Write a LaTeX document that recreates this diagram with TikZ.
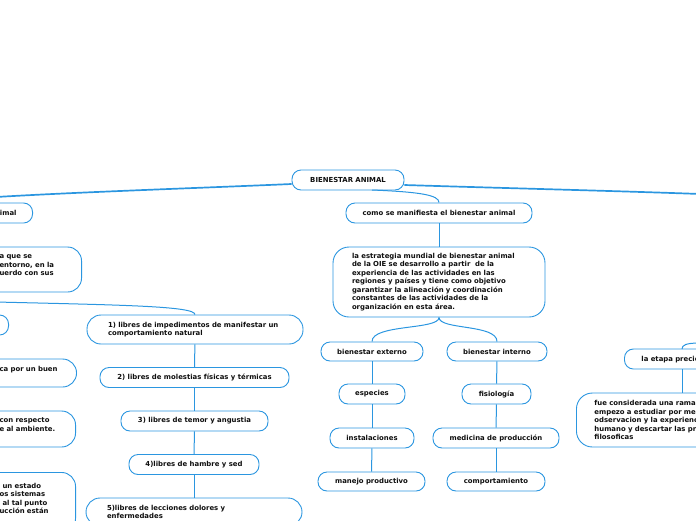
\documentclass[tikz,border=0pt]{standalone}
\usepackage{fontspec}
\setmainfont{DejaVu Sans}
\definecolor{mmblue}{RGB}{43,150,224}
\definecolor{txtc}{RGB}{15,15,15}
\newcommand{\mmfont}{\fontsize{6.9}{8.5}\selectfont\bfseries}
\tikzset{
  box/.style={draw=mmblue, line width=0.9pt, rounded corners=9pt, fill=white,
    text=txtc, font=\mmfont, inner sep=0pt, minimum height=20pt, align=center},
  para/.style={box, align=left, rounded corners=14pt},
  link/.style={draw=mmblue, line width=1pt},
  mainlink/.style={draw=mmblue, line width=1.7pt},
}
\begin{document}
\begin{tikzpicture}[x=1pt,y=-1pt]
\useasboundingbox (0,0) rectangle (696,520);
\clip (0,0) rectangle (696,520);

% root
\node[box, minimum width=112pt] (root) at (348,180) {BIENESTAR ANIMAL};

% left (cut) column
\node[box, anchor=east, text width=100pt, align=right, inner xsep=16pt] (lq) at (33,213) {imal};
\node[para, anchor=east, text width=67pt, inner xsep=15pt, minimum height=45pt] (lp) at (82,269.5)
  {a que se\\entorno, en la\\uerdo con sus\\\mbox{}};
\node[box, anchor=east, minimum width=60pt] (ls) at (9,325) {};
\node[para, anchor=east, text width=62pt, inner xsep=15pt, minimum height=28pt] (l1) at (77,373)
  {ca por un buen\\\mbox{}};
\node[para, anchor=east, text width=61pt, inner xsep=15pt, minimum height=36pt] (l2) at (76,429)
  {con respecto\\e al ambiente.\\\mbox{}};
\node[para, anchor=north east, text width=61pt, inner xsep=15pt, inner ysep=6pt, minimum height=60pt] (l3) at (76,472)
  {\hspace*{3pt}un estado\\os sistemas\\\hspace*{3pt}al tal punto\\ucción están\\\mbox{}};

% libres column
\node[para, text width=174pt, inner xsep=21pt, minimum height=29pt] (f1) at (195,329.5)
  {1) libres de impedimentos de manifestar un\\comportamiento natural};
\node[box, minimum width=189pt] (f2) at (194.5,377.5) {2) libres de molestias físicas y térmicas};
\node[box, minimum width=147pt] (f3) at (194.5,421) {3) libres de temor y angustia};
\node[box, minimum width=130pt] (f4) at (194,464.5) {4)libres de hambre y sed};
\node[para, text width=174pt, inner xsep=21pt, minimum height=28pt] (f5) at (194,512)
  {5)libres de lecciones dolores y\\enfermedades};

% middle branch
\node[box, minimum width=186pt] (como) at (439,213) {como se manifiesta el bienestar animal};
\node[para, text width=174pt, inner xsep=19pt, minimum height=70pt, rounded corners=16pt] (oie) at (439,282)
  {la estrategia mundial de bienestar animal\\
   de la OIE se desarrollo a partir\ \ de la\\
   experiencia de las actividades en las\\
   regiones y países y tiene como objetivo\\
   garantizar la alineación y coordinación\\
   constantes de las actividades de la\\
   organización en esta área.};
\node[box, minimum width=102pt, minimum height=19pt] (ext) at (372,351.5) {bienestar externo};
\node[box, minimum width=100pt, minimum height=19pt] (int) at (497,351.5) {bienestar interno};
\node[box, minimum width=66pt] (esp) at (372,394) {especies};
\node[box, minimum width=69pt] (fis) at (496.5,394) {fisiología};
\node[box, minimum width=84pt] (ins) at (372,438) {instalaciones};
\node[box, minimum width=126pt] (med) at (496,438) {medicina de producción};
\node[box, minimum width=107pt, minimum height=19pt] (man) at (371.5,481.5) {manejo productivo};
\node[box, minimum width=98pt, minimum height=19pt] (com) at (496,481.5) {comportamiento};

% right (cut) branch
\node[box, anchor=west, minimum height=20pt, inner xsep=17pt, text width=110pt, align=left] (eta) at (624,359)
  {la etapa precientífica};
\node[para, anchor=west, text width=200pt, inner xsep=18pt, minimum height=54pt, rounded corners=16pt] (fue) at (576,420)
  {fue considerada una rama\\empezo a estudiar por me\\odservacion y la experienc\\humano y descartar las pr\\filosoficas};

% free ends
\coordinate (lend) at (-4,197);
\coordinate (rend) at (700,194);
\coordinate (lend2) at (-4,302);
\coordinate (rend2) at (700,343);

% connectors
\draw[mainlink] ([yshift=-4pt]root.west) .. controls (200,188) and (80,192) .. (lend);
\draw[mainlink] ([yshift=-5pt]root.east) .. controls (500,188) and (620,191) .. (rend);
\draw[link] (372,190) .. controls (420,192) and (439,195) .. (como.north);
\draw[link] (lend2) .. controls (120,305) and (195,306) .. (f1.north);
\draw[link] (f1) -- (f2);
\draw[link] (f2) -- (f3);
\draw[link] (f3) -- (f4);
\draw[link] (f4) -- (f5);
\draw[link] (como) -- (oie);
\draw[link] (oie.south) .. controls (439,330) and (372,324) .. (ext.north);
\draw[link] (oie.south) .. controls (439,330) and (497,324) .. (int.north);
\draw[link] (ext) -- (esp);
\draw[link] (esp) -- (ins);
\draw[link] (ins) -- (man);
\draw[link] (int) -- (fis);
\draw[link] (fis) -- (med);
\draw[link] (med) -- (com);
\draw[link] (rend2) .. controls (686,343) and (682,345) .. (682,349);
\draw[link] (682,369) -- (fue.north -| 682,369);
\end{tikzpicture}
\end{document}
